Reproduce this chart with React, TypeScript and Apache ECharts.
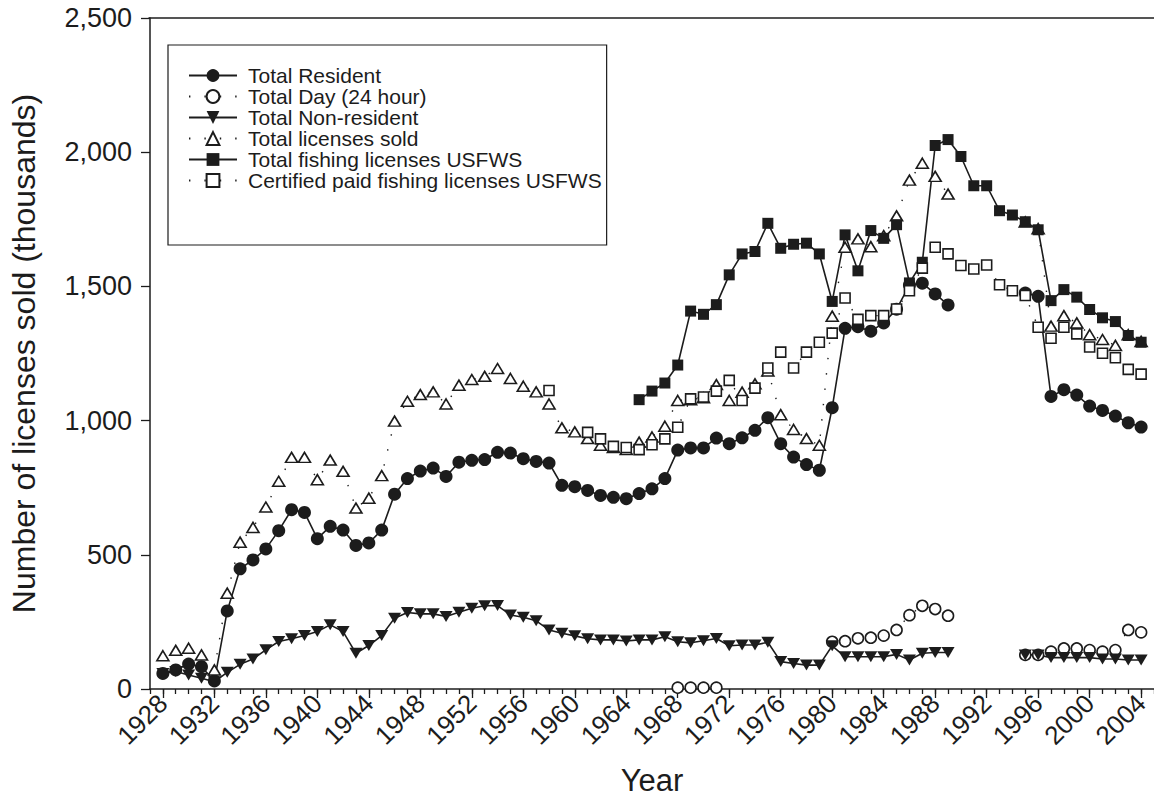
import { useEffect, useRef } from 'react';
import * as echarts from 'echarts';

const years = [
  1928, 1929, 1930, 1931, 1932, 1933, 1934, 1935, 1936, 1937,
  1938, 1939, 1940, 1941, 1942, 1943, 1944, 1945, 1946, 1947,
  1948, 1949, 1950, 1951, 1952, 1953, 1954, 1955, 1956, 1957,
  1958, 1959, 1960, 1961, 1962, 1963, 1964, 1965, 1966, 1967,
  1968, 1969, 1970, 1971, 1972, 1973, 1974, 1975, 1976, 1977,
  1978, 1979, 1980, 1981, 1982, 1983, 1984, 1985, 1986, 1987,
  1988, 1989, 1990, 1991, 1992, 1993, 1994, 1995, 1996, 1997,
  1998, 1999, 2000, 2001, 2002, 2003, 2004,
];

const majorYears = [
  1928, 1932, 1936, 1940, 1944, 1948, 1952, 1956, 1960, 1964,
  1968, 1972, 1976, 1980, 1984, 1988, 1992, 1996, 2000, 2004,
];

const _ = null;

const totalResident = [
  58, 71, 93, 83, 30, 291, 448, 481, 522, 590,
  668, 658, 560, 606, 592, 535, 544, 592, 726, 784,
  812, 823, 792, 845, 852, 855, 882, 879, 858, 848,
  842, 759, 754, 740, 721, 714, 709, 728, 746, 784,
  890, 898, 898, 935, 914, 936, 964, 1011, 914, 864,
  836, 815, 1048, 1344, 1350, 1333, 1364, 1415, 1505, 1512,
  1472, 1431, _, _, _, _, _, 1475, 1463, 1090,
  1115, 1095, 1054, 1038, 1017, 992, 976,
];

const totalDay = [
  _, _, _, _, _, _, _, _, _, _,
  _, _, _, _, _, _, _, _, _, _,
  _, _, _, _, _, _, _, _, _, _,
  _, _, _, _, _, _, _, _, _, _,
  5, 5, 5, 5, _, _, _, _, _, _,
  _, _, 176, 178, 189, 191, 199, 220, 275, 310,
  298, 273, _, _, _, _, _, 127, 127, 139,
  151, 151, 145, 139, 145, 220, 211,
];

const totalNonResident = [
  58, 65, 52, 40, 27, 62, 92, 112, 146, 177,
  187, 199, 214, 239, 214, 133, 162, 199, 264, 285,
  280, 280, 270, 286, 301, 310, 311, 276, 267, 254,
  220, 208, 198, 187, 183, 183, 179, 183, 183, 195,
  176, 172, 180, 188, 161, 164, 164, 174, 102, 95,
  89, 89, 161, 120, 120, 120, 120, 129, 108, 133,
  136, 136, _, _, _, _, _, 127, 127, 117,
  117, 117, 117, 112, 112, 108, 108,
];

const totalLicensesSold = [
  124, 144, 152, 127, 71, 357, 547, 602, 678, 774,
  863, 863, 780, 853, 811, 674, 711, 795, 998, 1072,
  1097, 1107, 1062, 1132, 1153, 1165, 1194, 1157, 1128, 1107,
  1062, 973, 958, 933, 908, 900, 892, 920, 939, 979,
  1075, 1078, 1085, 1134, 1075, 1106, 1137, 1185, 1022, 967,
  933, 908, 1389, 1646, 1677, 1648, 1689, 1763, 1896, 1959,
  1910, 1844, _, _, _, _, _, 1740, 1715, 1352,
  1391, 1364, 1320, 1302, 1280, 1320, 1295,
];

const totalFishingUSFWS = [
  _, _, _, _, _, _, _, _, _, _,
  _, _, _, _, _, _, _, _, _, _,
  _, _, _, _, _, _, _, _, _, _,
  _, _, _, _, _, _, _, 1078, 1110, 1140,
  1207, 1408, 1396, 1432, 1543, 1621, 1630, 1735, 1642, 1657,
  1661, 1621, 1444, 1692, 1558, 1708, 1679, 1730, 1513, 1590,
  2025, 2047, 1984, 1875, 1875, 1782, 1766, 1741, 1711, 1447,
  1488, 1460, 1414, 1383, 1369, 1317, 1292,
];

const certifiedPaidUSFWS = [
  _, _, _, _, _, _, _, _, _, _,
  _, _, _, _, _, _, _, _, _, _,
  _, _, _, _, _, _, _, _, _, _,
  1112, _, _, 956, 932, 904, 900, 892, 910, 932,
  975, 1081, 1088, 1110, 1150, 1075, 1121, 1196, 1255, 1196,
  1255, 1292, 1326, 1457, 1377, 1391, 1391, 1416, 1484, 1568,
  1646, 1621, 1578, 1565, 1580, 1506, 1484, 1466, 1348, 1307,
  1348, 1323, 1274, 1251, 1234, 1191, 1173,
];

const seriesNames = [
  'Total Resident',
  'Total Day (24 hour)',
  'Total Non-resident',
  'Total licenses sold',
  'Total fishing licenses USFWS',
  'Certified paid fishing licenses USFWS',
];

const FONT = "'Liberation Sans', Arial, Helvetica, sans-serif";
const INK = '#1c1c1c';

const pairs = (vals: (number | null)[]) => years.map((y, i) => [y, vals[i]]);

const solidLine = { color: INK, width: 1.6 };
const dottedLine = { color: INK, width: 1.4, type: [1.4, 14] as number[], cap: 'butt' };
const filled = { color: INK, borderWidth: 0 };
const hollow = { color: '#ffffff', borderColor: INK, borderWidth: 1.6 };

export default function App() {
  const ref = useRef<HTMLDivElement>(null);

  useEffect(() => {
    if (!ref.current) return;
    const chart = echarts.init(ref.current, null, { renderer: 'svg' });

    const base = {
      type: 'line',
      xAxisIndex: 0,
      yAxisIndex: 0,
      connectNulls: false,
      silent: true,
      emphasis: { disabled: true },
    };

    chart.setOption({
      animation: false,
      backgroundColor: '#ffffff',
      textStyle: { fontFamily: FONT, color: INK },
      grid: { left: 148.5, top: 18, width: 1009.5, height: 672.5, containLabel: false },
      xAxis: [
        {
          type: 'value',
          position: 'bottom',
          min: 1927,
          max: 2005,
          interval: 1,
          axisLine: { show: true, onZero: false, lineStyle: { color: INK, width: 1.5 } },
          axisTick: { show: true, inside: false, length: 5, lineStyle: { color: INK, width: 1.3 } },
          axisLabel: { show: false },
          splitLine: { show: false },
          name: 'Year',
          nameLocation: 'middle',
          nameGap: 76,
          nameTextStyle: { fontSize: 31, color: INK, fontFamily: FONT },
        },
        {
          type: 'value',
          position: 'bottom',
          min: 1927,
          max: 2005,
          axisLine: { show: false, onZero: false },
          axisTick: {
            show: true,
            length: 9,
            customValues: majorYears,
            lineStyle: { color: INK, width: 1.3 },
          },
          axisLabel: {
            show: true,
            customValues: majorYears,
            rotate: 45,
            fontSize: 26,
            margin: 10,
            color: INK,
            fontFamily: FONT,
            formatter: (v: number) => String(v),
          },
          splitLine: { show: false },
        },
      ],
      yAxis: {
        type: 'value',
        min: 0,
        max: 2500,
        interval: 500,
        axisLine: { show: true, lineStyle: { color: INK, width: 1.5 } },
        axisTick: { show: true, length: 9, lineStyle: { color: INK, width: 1.3 } },
        axisLabel: {
          fontSize: 27,
          margin: 18,
          color: INK,
          fontFamily: FONT,
          formatter: (v: number) => v.toLocaleString('en-US'),
        },
        splitLine: { show: false },
        name: 'Number of licenses sold (thousands)',
        nameLocation: 'middle',
        nameGap: 110,
        nameTextStyle: { fontSize: 32, color: INK, fontFamily: FONT },
      },
      legend: {
        orient: 'vertical',
        left: 168,
        top: 45,
        padding: [20, 5, 54, 20],
        itemWidth: 48,
        itemHeight: 16,
        itemGap: 0,
        borderColor: INK,
        borderWidth: 1.2,
        backgroundColor: '#ffffff',
        selectedMode: false,
        textStyle: {
          fontSize: 21,
          lineHeight: 21,
          color: INK,
          fontFamily: FONT,
          padding: [0, 0, 0, 6],
        },
        data: seriesNames,
      },
      graphic: [
        {
          type: 'line',
          shape: { x1: 148.5, y1: 18, x2: 1154, y2: 18 },
          style: { stroke: INK, lineWidth: 1.5 },
          silent: true,
        },
      ],
      series: [
        {
          ...base,
          name: seriesNames[0],
          data: pairs(totalResident),
          symbol: 'circle',
          symbolSize: 13,
          itemStyle: filled,
          lineStyle: solidLine,
        },
        {
          ...base,
          name: seriesNames[1],
          data: pairs(totalDay),
          symbol: 'circle',
          symbolSize: 11,
          itemStyle: hollow,
          lineStyle: dottedLine,
        },
        {
          ...base,
          name: seriesNames[2],
          data: pairs(totalNonResident),
          symbol: 'path://M0,0L12,0L6,10Z',
          symbolSize: [13, 11],
          itemStyle: filled,
          lineStyle: solidLine,
        },
        {
          ...base,
          name: seriesNames[3],
          data: pairs(totalLicensesSold),
          symbol: 'triangle',
          symbolSize: [12, 10],
          itemStyle: hollow,
          lineStyle: dottedLine,
        },
        {
          ...base,
          name: seriesNames[4],
          data: pairs(totalFishingUSFWS),
          symbol: 'rect',
          symbolSize: 11,
          itemStyle: filled,
          lineStyle: solidLine,
        },
        {
          ...base,
          name: seriesNames[5],
          data: pairs(certifiedPaidUSFWS),
          symbol: 'rect',
          symbolSize: 10,
          itemStyle: hollow,
          lineStyle: dottedLine,
        },
      ],
    });

    return () => chart.dispose();
  }, []);

  return (
    <div
      ref={ref}
      style={{ position: 'fixed', left: 0, top: 0, width: 1154, height: 801, background: '#fff' }}
    />
  );
}
